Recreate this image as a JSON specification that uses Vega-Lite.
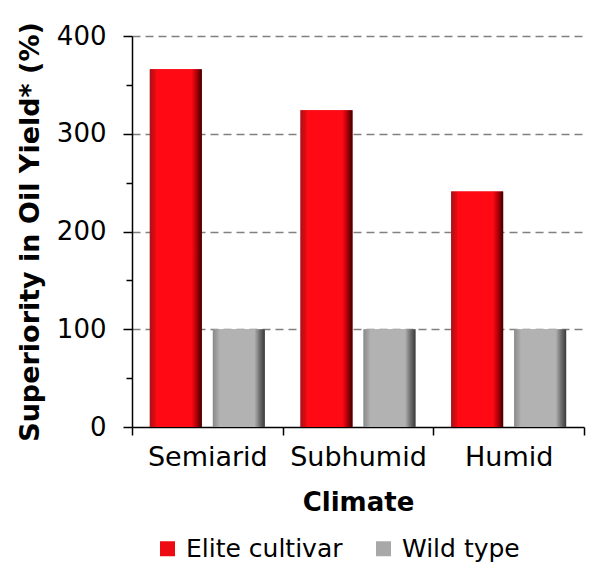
{
  "$schema": "https://vega.github.io/schema/vega-lite/v6.json",
  "width": 452,
  "height": 391,
  "autosize": {"type": "none"},
  "padding": {"left": 132, "top": 36, "right": 11, "bottom": 137},
  "background": "white",
  "config": {"font": "DejaVu Sans", "view": {"stroke": null}},
  "data": {
    "values": [
      {"climate": "Semiarid", "type": "Elite cultivar", "value": 366},
      {"climate": "Semiarid", "type": "Wild type", "value": 100},
      {"climate": "Subhumid", "type": "Elite cultivar", "value": 324},
      {"climate": "Subhumid", "type": "Wild type", "value": 100},
      {"climate": "Humid", "type": "Elite cultivar", "value": 241},
      {"climate": "Humid", "type": "Wild type", "value": 100}
    ]
  },
  "encoding": {
    "x": {
      "field": "climate",
      "type": "nominal",
      "sort": ["Semiarid", "Subhumid", "Humid"],
      "scale": {"paddingInner": 0, "paddingOuter": 0},
      "axis": {
        "title": "Climate",
        "titleFontSize": 26,
        "titleFontWeight": "bold",
        "titleColor": "black",
        "labelFontSize": 27,
        "labelColor": "black",
        "labelAngle": 0,
        "tickBand": "extent",
        "tickSize": 8,
        "tickColor": "black",
        "tickWidth": 1.5,
        "domainColor": "black",
        "domainWidth": 1.5,
        "labelPadding": 9,
        "titlePadding": 19
      }
    },
    "xOffset": {
      "field": "type",
      "sort": ["Elite cultivar", "Wild type"],
      "scale": {"paddingInner": 0.175, "paddingOuter": 0.283}
    },
    "y": {
      "field": "value",
      "type": "quantitative",
      "scale": {"domain": [0, 400]},
      "axis": {
        "title": "Superiority in Oil Yield* (%)",
        "titleFontSize": 27,
        "titleFontWeight": "bold",
        "titleColor": "black",
        "titlePadding": 12,
        "values": [0, 50, 100, 150, 200, 250, 300, 350, 400],
        "labelExpr": "datum.value % 100 === 0 ? datum.label : ''",
        "labelFontSize": 26,
        "labelColor": "black",
        "labelPadding": 17,
        "tickSize": {"condition": {"test": "datum.value % 100 === 0", "value": 9}, "value": 6},
        "tickColor": "black",
        "tickWidth": 1.5,
        "domainColor": "black",
        "domainWidth": 1.5,
        "grid": true,
        "gridDash": [8, 5],
        "gridColor": "#808080",
        "gridWidth": 1.5,
        "gridOpacity": {"condition": {"test": "datum.value % 100 === 0 && datum.value > 0", "value": 1}, "value": 0}
      }
    }
  },
  "layer": [
    {
      "mark": {"type": "bar"},
      "encoding": {
        "color": {
          "field": "type",
          "type": "nominal",
          "scale": {"domain": ["Elite cultivar", "Wild type"], "range": ["#ee0a12", "#a8a8a8"]},
          "legend": {
            "orient": "none",
            "legendX": 23,
            "legendY": 500,
            "direction": "horizontal",
            "title": null,
            "labelFontSize": 25,
            "labelColor": "black",
            "labelLimit": 0,
            "symbolType": "square",
            "symbolSize": 225,
            "symbolStrokeWidth": 0,
            "symbolOpacity": 1,
            "columnPadding": 28,
            "labelOffset": 6
          }
        }
      }
    },
    {
      "transform": [{"filter": "datum.type === 'Elite cultivar'"}],
      "mark": {
        "type": "bar",
        "fill": {
          "gradient": "linear", "x1": 0, "y1": 0, "x2": 1, "y2": 0,
          "stops": [
            {"offset": 0, "color": "#a8121a"},
            {"offset": 0.1, "color": "#e00a12"},
            {"offset": 0.13, "color": "#ff0a14"},
            {"offset": 0.8, "color": "#ff0a14"},
            {"offset": 0.9, "color": "#b00008"},
            {"offset": 1, "color": "#3a0000"}
          ]
        }
      }
    },
    {
      "transform": [{"filter": "datum.type === 'Wild type'"}],
      "mark": {
        "type": "bar",
        "fill": {
          "gradient": "linear", "x1": 0, "y1": 0, "x2": 1, "y2": 0,
          "stops": [
            {"offset": 0, "color": "#8a8a8a"},
            {"offset": 0.1, "color": "#a6a6a6"},
            {"offset": 0.13, "color": "#b2b2b2"},
            {"offset": 0.8, "color": "#b2b2b2"},
            {"offset": 0.9, "color": "#707070"},
            {"offset": 1, "color": "#3a3a3a"}
          ]
        }
      }
    }
  ]
}
